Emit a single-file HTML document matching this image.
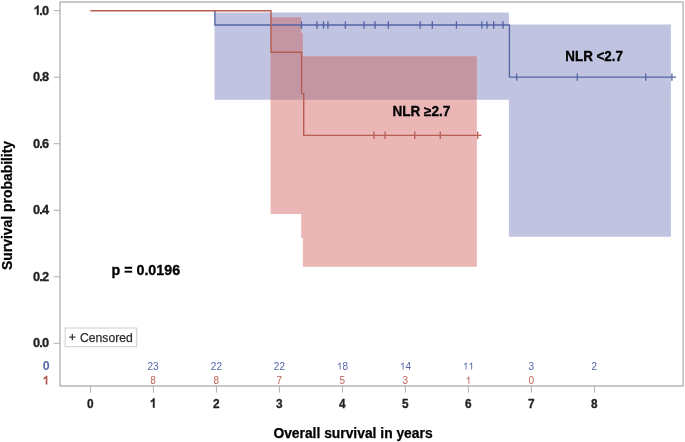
<!DOCTYPE html>
<html>
<head>
<meta charset="utf-8">
<title>Kaplan-Meier survival by NLR</title>
<style>
  html, body { margin: 0; padding: 0; background: #ffffff; }
  body { width: 685px; height: 442px; overflow: hidden; }
  svg { display: block; filter: blur(0.4px); }
  text { font-family: "Liberation Sans", sans-serif; }
  .ytick { font-size: 12.8px; font-weight: bold; fill: #222222; stroke: #222222; stroke-width: 0.3px; letter-spacing: -0.8px; }
  .xtick { font-size: 13.2px; font-weight: bold; fill: #222222; stroke: #222222; stroke-width: 0.3px; }
  .title { font-size: 13.8px; font-weight: bold; fill: #000000; stroke:#000000; stroke-width:0.25px; }
  .ann { font-size: 14px; font-weight: bold; fill: #000000; stroke:#000000; stroke-width:0.3px; }
  .riskb { font-size: 10px; fill: #5567a8; }
  .riskr { font-size: 10px; fill: #bd5f55; }
</style>
</head>
<body>
<svg width="685" height="442" viewBox="0 0 685 442">
  <defs>
    <clipPath id="blueclip">
      <path d="M214.5,12.4 H508.9 V24.5 H670.9 V236.7 H508.9 V99.7 H214.5 Z"/>
    </clipPath>
  </defs>
  <rect x="0" y="0" width="685" height="442" fill="#ffffff"/>

  <!-- confidence bands -->
  <path d="M214.5,12.4 H508.9 V24.5 H670.9 V236.7 H508.9 V99.7 H214.5 Z" fill="#c0c4e0"/>
  <path id="redband" d="M270.6,17.2 H301.2 V33 H302.9 V56.2 H476.8 V266.7 H302.9 V237.9 H301.2 V213.9 H270.6 Z" fill="#eab6b6"/>
  <path d="M270.6,17.2 H301.2 V33 H302.9 V56.2 H476.8 V266.7 H302.9 V237.9 H301.2 V213.9 H270.6 Z" fill="#c496a4" clip-path="url(#blueclip)"/>

  <!-- plot frame -->
  <rect x="60" y="1.9" width="623.1" height="384" fill="none" stroke="#b2b8bb" stroke-width="1.45" stroke-linejoin="round"/>

  <!-- y ticks -->
  <g stroke="#a9b0b4" stroke-width="1">
    <line x1="53.7" y1="10.6" x2="60" y2="10.6"/>
    <line x1="53.7" y1="77.2" x2="60" y2="77.2"/>
    <line x1="53.7" y1="143.7" x2="60" y2="143.7"/>
    <line x1="53.7" y1="210.3" x2="60" y2="210.3"/>
    <line x1="53.7" y1="276.8" x2="60" y2="276.8"/>
    <line x1="53.7" y1="343.3" x2="60" y2="343.3"/>
  </g>
  <!-- x ticks -->
  <g stroke="#a9b0b4" stroke-width="1">
    <line x1="90.4" y1="386" x2="90.4" y2="392.6"/>
    <line x1="153.4" y1="386" x2="153.4" y2="392.6"/>
    <line x1="216.4" y1="386" x2="216.4" y2="392.6"/>
    <line x1="279.4" y1="386" x2="279.4" y2="392.6"/>
    <line x1="342.4" y1="386" x2="342.4" y2="392.6"/>
    <line x1="405.4" y1="386" x2="405.4" y2="392.6"/>
    <line x1="468.4" y1="386" x2="468.4" y2="392.6"/>
    <line x1="531.4" y1="386" x2="531.4" y2="392.6"/>
    <line x1="594.4" y1="386" x2="594.4" y2="392.6"/>
  </g>

  <!-- blue KM curve -->
  <path d="M214.9,10.7 V25 H509.4 V77.1 H676" fill="none" stroke="#5264a5" stroke-width="1.35" stroke-linejoin="round"/>
  <g stroke="#5264a5" stroke-width="1.3">
    <line x1="301.5" y1="21.3" x2="301.5" y2="28.7"/>
    <line x1="316.9" y1="21.3" x2="316.9" y2="28.7"/>
    <line x1="323.5" y1="21.3" x2="323.5" y2="28.7"/>
    <line x1="327.9" y1="21.3" x2="327.9" y2="28.7"/>
    <line x1="345.4" y1="21.3" x2="345.4" y2="28.7"/>
    <line x1="364" y1="21.3" x2="364" y2="28.7"/>
    <line x1="375" y1="21.3" x2="375" y2="28.7"/>
    <line x1="388.3" y1="21.3" x2="388.3" y2="28.7"/>
    <line x1="420.2" y1="21.3" x2="420.2" y2="28.7"/>
    <line x1="432.3" y1="21.3" x2="432.3" y2="28.7"/>
    <line x1="456.4" y1="21.3" x2="456.4" y2="28.7"/>
    <line x1="481.9" y1="21.3" x2="481.9" y2="28.7"/>
    <line x1="487" y1="21.3" x2="487" y2="28.7"/>
    <line x1="493.7" y1="21.3" x2="493.7" y2="28.7"/>
    <line x1="503" y1="21.3" x2="503" y2="28.7"/>
    <line x1="516.7" y1="73.4" x2="516.7" y2="80.8"/>
    <line x1="577.3" y1="73.4" x2="577.3" y2="80.8"/>
    <line x1="645.7" y1="73.4" x2="645.7" y2="80.8"/>
    <line x1="671.9" y1="73.4" x2="671.9" y2="80.8"/>
  </g>

  <!-- red KM curve -->
  <path d="M90.4,10.7 H271 V52.2 H301.6 V93.6 H303.7 V135.4 H481.4" fill="none" stroke="#b85c52" stroke-width="1.4" stroke-linejoin="round"/>
  <g stroke="#b85c52" stroke-width="1.3">
    <line x1="373.9" y1="131.6" x2="373.9" y2="139.1"/>
    <line x1="385.1" y1="131.6" x2="385.1" y2="139.1"/>
    <line x1="414.8" y1="131.6" x2="414.8" y2="139.1"/>
    <line x1="440.3" y1="131.6" x2="440.3" y2="139.1"/>
    <line x1="477.7" y1="131.6" x2="477.7" y2="139.1"/>
  </g>

  <!-- y tick labels -->
  <g class="ytick" text-anchor="end">
    <path d="M393,0 H256 V517 Q181,447 79,413 V537 Q133,555 196,604 Q259,653 282,719 H393 Z" transform="translate(33.60,14.7) scale(0.01280,-0.01280)" fill="#222222" stroke="#222222" stroke-width="23.4"/>
    <text x="48.4" y="14.7">.0</text>
    <text x="48.4" y="81.3">0.8</text>
    <text x="48.4" y="147.8">0.6</text>
    <text x="48.4" y="214.4">0.4</text>
    <text x="48.4" y="280.9">0.2</text>
    <text x="48.4" y="347.4">0.0</text>
  </g>

  <!-- x tick labels -->
  <g class="xtick" text-anchor="middle">
    <text x="90.2" y="407.7" textLength="6.6" lengthAdjust="spacingAndGlyphs">0</text>
    <path d="M393,0 H256 V517 Q181,447 79,413 V537 Q133,555 196,604 Q259,653 282,719 H393 Z" transform="translate(149.90,407.7) scale(0.01188,-0.01320)" fill="#222222" stroke="#222222" stroke-width="22.7"/>
    <text x="216.2" y="407.7" textLength="6.6" lengthAdjust="spacingAndGlyphs">2</text>
    <text x="279.2" y="407.7" textLength="6.6" lengthAdjust="spacingAndGlyphs">3</text>
    <text x="342.2" y="407.7" textLength="6.6" lengthAdjust="spacingAndGlyphs">4</text>
    <text x="405.2" y="407.7" textLength="6.6" lengthAdjust="spacingAndGlyphs">5</text>
    <text x="468.2" y="407.7" textLength="6.6" lengthAdjust="spacingAndGlyphs">6</text>
    <text x="531.2" y="407.7" textLength="6.6" lengthAdjust="spacingAndGlyphs">7</text>
    <text x="594.2" y="407.7" textLength="6.6" lengthAdjust="spacingAndGlyphs">8</text>
  </g>

  <!-- at-risk table -->
  <text x="46.1" y="370" text-anchor="middle" style="font-size:12.4px;font-weight:bold;fill:#5567a8">0</text>
  <path d="M393,0 H256 V517 Q181,447 79,413 V537 Q133,555 196,604 Q259,653 282,719 H393 Z" transform="translate(42.50,384.6) scale(0.01240,-0.01240)" fill="#b1544b"/>
  <g class="riskb" text-anchor="middle">
    <text x="153" y="369.5">23</text>
    <text x="216.4" y="369.5">22</text>
    <text x="279.4" y="369.5">22</text>
    <path d="M372,0 H284 V560 Q252,530 200.5,500 Q149,470 108,455 V540 Q182,575 237.5,624.5 Q293,674 316,721 H372 Z" transform="translate(336.84,369.6) scale(0.01000,-0.01000)" fill="#5567a8"/><text x="342.4" y="369.5" text-anchor="start">8</text>
    <path d="M372,0 H284 V560 Q252,530 200.5,500 Q149,470 108,455 V540 Q182,575 237.5,624.5 Q293,674 316,721 H372 Z" transform="translate(399.84,369.6) scale(0.01000,-0.01000)" fill="#5567a8"/><text x="405.4" y="369.5" text-anchor="start">4</text>
    <path d="M372,0 H284 V560 Q252,530 200.5,500 Q149,470 108,455 V540 Q182,575 237.5,624.5 Q293,674 316,721 H372 Z" transform="translate(462.84,369.6) scale(0.01000,-0.01000)" fill="#5567a8"/><path d="M372,0 H284 V560 Q252,530 200.5,500 Q149,470 108,455 V540 Q182,575 237.5,624.5 Q293,674 316,721 H372 Z" transform="translate(468.40,369.6) scale(0.01000,-0.01000)" fill="#5567a8"/>
    <text x="531.4" y="369.5">3</text>
    <text x="594.4" y="369.5">2</text>
  </g>
  <g class="riskr" text-anchor="middle">
    <text x="153" y="383.5">8</text>
    <text x="216.4" y="383.5">8</text>
    <text x="279.4" y="383.5">7</text>
    <text x="342.4" y="383.5">5</text>
    <text x="405.4" y="383.5">3</text>
    <path d="M372,0 H284 V560 Q252,530 200.5,500 Q149,470 108,455 V540 Q182,575 237.5,624.5 Q293,674 316,721 H372 Z" transform="translate(465.62,383.8) scale(0.01000,-0.01000)" fill="#bd5f55"/>
    <text x="531.4" y="383.5">0</text>
  </g>

  <!-- censored legend -->
  <rect x="65.2" y="328" width="71.5" height="18.7" fill="#ffffff" stroke="#cdcdcd" stroke-width="1"/>
  <path d="M69.3,337.1 H75.4 M72.35,334 V340.2" stroke="#3a3a3a" stroke-width="1.3" fill="none"/>
  <text x="80" y="341.8" style="font-size:12.2px;fill:#2e2e2e;stroke:#2e2e2e;stroke-width:0.25">Censored</text>

  <!-- annotations -->
  <text class="ann" x="565.3" y="61" textLength="57.7" lengthAdjust="spacingAndGlyphs">NLR &lt;2.7</text>
  <text class="ann" x="392.5" y="115.7" textLength="57.9" lengthAdjust="spacingAndGlyphs">NLR ≥2.7</text>
  <text x="111.5" y="274.8" textLength="68.6" lengthAdjust="spacingAndGlyphs" style="font-size:14.1px;font-weight:bold;fill:#000000;stroke:#000;stroke-width:0.3px">p = 0.0196</text>

  <!-- axis titles -->
  <text class="title" x="273.4" y="437.8" textLength="159.2" lengthAdjust="spacingAndGlyphs">Overall survival in years</text>
  <text class="title" transform="translate(11.8,269.9) rotate(-90)" textLength="129" lengthAdjust="spacingAndGlyphs">Survival probability</text>
</svg>
</body>
</html>
